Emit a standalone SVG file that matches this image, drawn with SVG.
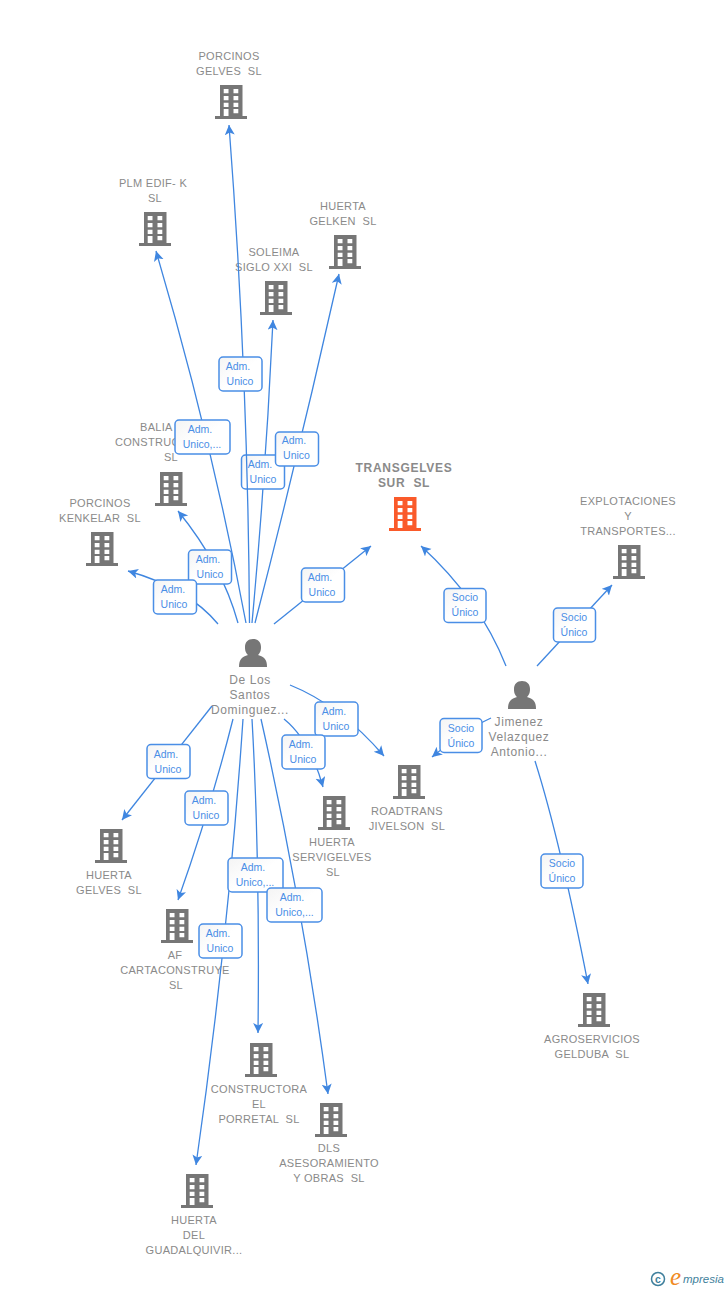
<svg xmlns="http://www.w3.org/2000/svg" width="728" height="1290" viewBox="0 0 728 1290">
<style>
text{font-family:"Liberation Sans",Arial,sans-serif;white-space:pre}
.n{font-size:11px;fill:#8a8a8a;text-anchor:middle;letter-spacing:.3px}
.s{text-anchor:start}
.t{font-size:12px;font-weight:bold;letter-spacing:.7px}
.h{font-size:12px;letter-spacing:.6px}
.c{fill:none;stroke:#3f86e0;stroke-width:1.3;marker-end:url(#a)}
.b{fill:url(#g);stroke:#4a8ee6;stroke-width:1.5}
.l{font-size:10.5px;fill:#4a8ee6;text-anchor:middle}
.w{fill:#fff}
</style>
<defs>
<linearGradient id="g" x1="0" y1="0" x2="1" y2="1"><stop offset="0" stop-color="#f4f4f4"/><stop offset=".5" stop-color="#fff"/></linearGradient>
<marker id="a" markerUnits="userSpaceOnUse" markerWidth="11" markerHeight="11" refX="10" refY="5" orient="auto"><path d="M10,5L0,0L2.5,5L0,10Z" fill="#3f86e0"/></marker>
<g id="bld"><path d="M-11,0H11.500V31H16V34H-16V31H-11Z"/><path class="w" d="M-7.300,4h4.800v4.300h-4.800zM2.500,4h4.800v4.300h-4.800zM-7.300,11h4.800v4.300h-4.800zM2.500,11h4.800v4.300h-4.800zM-7.300,17.700h4.800v4.300h-4.800zM2.500,17.700h4.800v4.300h-4.800zM-7.300,24h4.800v7h-4.800zM2.500,24h4.800v4.300h-4.800z"/></g>
<path id="per" d="M-14,28C-14,20 -11,18 -5,16C-8,13 -8,10 -8,8C-8,3 -5,0 0,0C5,0 8,3 8,8C8,10 8,13 5,16C11,18 14,20 14,28Z"/>
</defs>
<rect width="728" height="1290" fill="#fff"/>
<g id="nodes" fill="#767676">
<g id="n1"><use href="#bld" x="231" y="85"/><text class="n" x="229" y="60">PORCINOS</text><text class="n" x="229" y="75">GELVES  SL</text></g>
<g id="n2"><use href="#bld" x="155" y="212"/><text class="n" x="153" y="187">PLM EDIF- K</text><text class="n" x="155" y="202">SL</text></g>
<g id="n3"><use href="#bld" x="345" y="235"/><text class="n" x="343" y="210">HUERTA</text><text class="n" x="343" y="225">GELKEN  SL</text></g>
<g id="n4"><use href="#bld" x="276" y="281"/><text class="n" x="274" y="256">SOLEIMA</text><text class="n" x="274" y="271">SIGLO XXI  SL</text></g>
<g id="n5"><use href="#bld" x="171" y="472"/><text class="n s" x="140" y="431">BALIA</text><text class="n s" x="115" y="446">CONSTRUC</text><text class="n" x="171" y="461">SL</text></g>
<g id="n6"><use href="#bld" x="102" y="532"/><text class="n" x="100" y="507">PORCINOS</text><text class="n" x="100" y="522">KENKELAR  SL</text></g>
<g id="n7" fill="#fa5a2a"><use href="#bld" x="405" y="497"/><text class="n t" x="404" y="471.500">TRANSGELVES</text><text class="n t" x="404" y="486.500">SUR  SL</text></g>
<g id="n8"><use href="#bld" x="629" y="545"/><text class="n" x="628" y="505">EXPLOTACIONES</text><text class="n" x="628" y="520">Y</text><text class="n" x="628" y="535">TRANSPORTES...</text></g>
<g id="n9"><use href="#bld" x="409" y="765"/><text class="n" x="407" y="815">ROADTRANS</text><text class="n" x="407" y="830">JIVELSON  SL</text></g>
<g id="n10"><use href="#bld" x="334" y="796"/><text class="n" x="332" y="846">HUERTA</text><text class="n" x="332" y="861">SERVIGELVES</text><text class="n" x="333" y="876">SL</text></g>
<g id="n11"><use href="#bld" x="111" y="829"/><text class="n" x="109" y="879">HUERTA</text><text class="n" x="109" y="894">GELVES  SL</text></g>
<g id="n12"><use href="#bld" x="177" y="909"/><text class="n" x="175" y="959">AF</text><text class="n" x="175" y="974">CARTACONSTRUYE</text><text class="n" x="176" y="989">SL</text></g>
<g id="n13"><use href="#bld" x="261" y="1043"/><text class="n" x="259" y="1093">CONSTRUCTORA</text><text class="n" x="259" y="1108">EL</text><text class="n" x="259" y="1123">PORRETAL  SL</text></g>
<g id="n14"><use href="#bld" x="331" y="1103"/><text class="n" x="329" y="1152">DLS</text><text class="n" x="329" y="1167">ASESORAMIENTO</text><text class="n" x="329" y="1182">Y OBRAS  SL</text></g>
<g id="n15"><use href="#bld" x="197" y="1174"/><text class="n" x="194" y="1224">HUERTA</text><text class="n" x="194" y="1239">DEL</text><text class="n" x="194" y="1254">GUADALQUIVIR...</text></g>
<g id="n16"><use href="#bld" x="594" y="993"/><text class="n" x="592" y="1043">AGROSERVICIOS</text><text class="n" x="592" y="1058">GELDUBA  SL</text></g>
<g id="p1"><use href="#per" x="253" y="639"/><text class="n h" x="250" y="684">De Los</text><text class="n h" x="250" y="699">Santos</text><text class="n h" x="250" y="714">Dominguez...</text></g>
<g id="p2"><use href="#per" x="522" y="681"/><text class="n h" x="519" y="726">Jimenez</text><text class="n h" x="519" y="741">Velazquez</text><text class="n h" x="519" y="756">Antonio...</text></g>
</g>
<g id="connectors">
<path class="c" d="M252,623Q266,471 273,320"/>
<rect class="b" x="241.500" y="455" width="43" height="34" rx="4"/><text class="l" x="260" y="468">Adm.</text><text class="l" x="263" y="483">Unico</text>
<path class="c" d="M249.500,623Q248,374 229,125"/>
<path class="c" d="M246,623Q211,437 156,251"/>
<path class="c" d="M255,623Q300,448 339,274"/>
<path class="c" d="M238,623Q222,565 178,511"/>
<path class="c" d="M218,624Q188,588 128,571"/>
<path class="c" d="M274,624L371,546"/>
<path class="c" d="M290,685Q340,705 384,756"/>
<path class="c" d="M284,719Q310,740 323,787"/>
<path class="c" d="M212,706L122,820"/>
<path class="c" d="M233,719Q210,810 178,900"/>
<path class="c" d="M243,719Q228,942 196,1165"/>
<path class="c" d="M252,719Q260,860 258,1033"/>
<path class="c" d="M261,719Q303,906 328,1094"/>
<path class="c" d="M506,666Q480,600 421,546"/>
<path class="c" d="M537,666L612,585"/>
<path class="c" d="M491,718Q465,730 432,757"/>
<path class="c" d="M535,761Q560,840 588,984"/>
<g id="labels">
<rect class="b" x="219" y="357" width="43" height="34" rx="4"/><text class="l" x="238" y="370">Adm.</text><text class="l" x="240" y="385">Unico</text>
<rect class="b" x="175" y="420" width="55" height="34" rx="4"/><text class="l" x="200" y="433">Adm.</text><text class="l" x="202" y="448">Unico,...</text>
<rect class="b" x="275.500" y="432" width="43" height="34" rx="4"/><text class="l" x="294" y="444">Adm.</text><text class="l" x="296.500" y="459">Unico</text>
<rect class="b" x="188.500" y="550" width="43" height="34" rx="4"/><text class="l" x="208" y="563">Adm.</text><text class="l" x="210" y="578">Unico</text>
<rect class="b" x="153.500" y="580" width="43" height="34" rx="4"/><text class="l" x="173" y="593">Adm.</text><text class="l" x="174" y="608">Unico</text>
<rect class="b" x="301.500" y="568" width="43" height="34" rx="4"/><text class="l" x="320" y="581">Adm.</text><text class="l" x="322" y="596">Unico</text>
<rect class="b" x="315" y="702" width="43" height="34" rx="4"/><text class="l" x="334" y="715">Adm.</text><text class="l" x="336" y="730">Unico</text>
<rect class="b" x="282" y="735" width="43" height="34" rx="4"/><text class="l" x="301" y="748">Adm.</text><text class="l" x="303" y="763">Unico</text>
<rect class="b" x="147" y="744.500" width="43" height="34" rx="4"/><text class="l" x="166" y="758">Adm.</text><text class="l" x="168" y="773">Unico</text>
<rect class="b" x="185" y="791" width="43" height="34" rx="4"/><text class="l" x="204" y="804">Adm.</text><text class="l" x="206" y="819">Unico</text>
<rect class="b" x="228" y="858" width="55" height="34" rx="4"/><text class="l" x="253" y="871">Adm.</text><text class="l" x="255" y="886">Unico,...</text>
<rect class="b" x="267" y="888" width="55" height="34" rx="4"/><text class="l" x="292" y="901">Adm.</text><text class="l" x="294.500" y="916">Unico,...</text>
<rect class="b" x="199" y="924" width="43" height="34" rx="4"/><text class="l" x="218" y="937">Adm.</text><text class="l" x="220" y="952">Unico</text>
<rect class="b" x="444" y="588.500" width="42" height="34" rx="4"/><text class="l" x="465" y="601">Socio</text><text class="l" x="465" y="616">Único</text>
<rect class="b" x="553.500" y="608" width="42" height="34" rx="4"/><text class="l" x="574" y="621">Socio</text><text class="l" x="574" y="636">Único</text>
<rect class="b" x="440" y="718.500" width="42" height="34" rx="4"/><text class="l" x="461" y="732">Socio</text><text class="l" x="461" y="747">Único</text>
<rect class="b" x="541" y="854" width="42" height="34" rx="4"/><text class="l" x="562" y="867">Socio</text><text class="l" x="562" y="882">Único</text>
</g>
</g>
<g id="footer">
<circle cx="658" cy="1279" r="6.500" fill="none" stroke="#3f7f9c" stroke-width="1.500"/>
<text x="658" y="1282.500" font-size="10.500" font-weight="bold" fill="#3f7f9c" text-anchor="middle">c</text>
<text x="670" y="1285" font-size="25" font-style="italic" fill="#f08a24" style='font-family:"Liberation Serif",serif'>e</text>
<text x="683" y="1283" font-size="11.500" font-style="italic" fill="#3f7f9c">mpresia</text>
</g>
</svg>
